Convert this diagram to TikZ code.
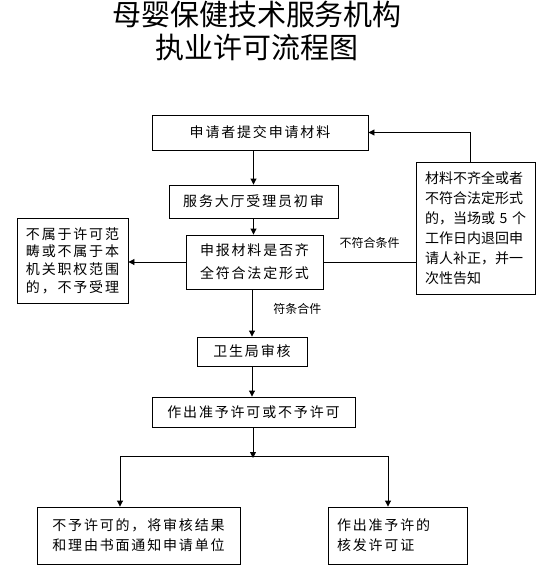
\documentclass[tikz,border=0pt]{standalone}
\usepackage{fontspec}
\usepackage{tikz}
\usetikzlibrary{arrows.meta,positioning}
\setmainfont{Noto Sans CJK SC}
\newfontfamily\cjk{Noto Sans CJK SC}
\newfontfamily\cjkbox[LetterSpace=13]{Noto Sans CJK SC}

\begin{document}
\begin{tikzpicture}[x=1pt,y=-1pt,
  flowbox/.style={draw,line width=0.9pt,inner sep=0pt,align=center,
                  font=\cjkbox\fontsize{14}{23}\selectfont},
  notebox/.style={draw,line width=0.9pt,inner ysep=0pt,align=left,
                  font=\cjk\fontsize{14}{20}\selectfont},
  condlabel/.style={inner sep=0pt,font=\cjk\fontsize{12}{14}\selectfont},
  flowarrow/.style={line width=0.9pt,-{Triangle[length=6pt,width=6pt]}},
]
\useasboundingbox (0,0) rectangle (537,571);
\node[font=\cjk\fontsize{29}{33}\selectfont,align=center,inner sep=0pt] (title) at (257,31) {母婴保健技术服务机构\\执业许可流程图};
\node[flowbox,minimum width=216pt,minimum height=35pt] (apply) at (260,132.5) {申请者提交申请材料};
\node[flowbox,minimum width=169pt,minimum height=33pt] (hall) at (253.5,201.5) {服务大厅受理员初审};
\node[flowbox,minimum width=137pt,minimum height=54pt] (check) at (254.5,262) {申报材料是否齐\\全符合法定形式};
\node[flowbox,minimum width=111pt,minimum height=85pt,font=\cjkbox\fontsize{14}{17.7}\selectfont] (reject) at (72.5,260.5) {不属于许可范\\畴或不属于本\\机关职权范围\\的，不予受理};
\node[notebox,inner xsep=9pt,text width=101pt,minimum height=132pt] (supplement) at (475.5,228) {材料不齐全或者\\不符合法定形式\\的，当场或~5~个\\工作日内退回申\\请人补正，并一\\次性告知};
\node[flowbox,minimum width=110pt,minimum height=29pt] (bureau) at (252,351.5) {卫生局审核};
\node[flowbox,minimum width=203pt,minimum height=30pt] (decide) at (253.5,412) {作出准予许可或不予许可};
\node[flowbox,minimum width=203pt,minimum height=57pt,font=\cjkbox\fontsize{14}{20}\selectfont] (deny) at (138.5,535.5) {不予许可的，将审核结果\\和理由书面通知申请单位};
\node[flowbox,align=left,inner xsep=9pt,text width=121pt,minimum height=57pt,font=\cjkbox\fontsize{14}{20}\selectfont] (grant) at (397.5,535.5) {作出准予许的\\核发许可证};
\coordinate (split) at (253,456);
% connectors
\draw[flowarrow] (hall.north |- apply.south) -- (hall.north);
\draw[flowarrow] (hall.south) -- (hall.south |- check.north);
\draw[flowarrow] (check.west) -- (reject.east |- check.west);
\draw[line width=0.9pt] (check.east) -- node[condlabel,above=13pt] {不符合条件} (check.east -| supplement.west);
\draw[flowarrow] ([xshift=-5.5pt]supplement.north) |- (apply.east);
\draw[flowarrow] (bureau.north |- check.south) -- node[condlabel,pos=0.42,right=21pt] {符条合件} (bureau.north);
\draw[flowarrow] (bureau.south) -- (bureau.south |- decide.north);
\draw[flowarrow] (decide.south -| split) -- ([yshift=-2pt]split);
\draw[flowarrow] ([xshift=-133pt]split) -- ([xshift=-133pt]split |- deny.north);
\draw[flowarrow] ([xshift=135pt]split) -- ([xshift=135pt]split |- grant.north);
\draw[line width=0.9pt] ([xshift=-133pt]split) -- ([xshift=135pt]split);
\end{tikzpicture}
\end{document}
